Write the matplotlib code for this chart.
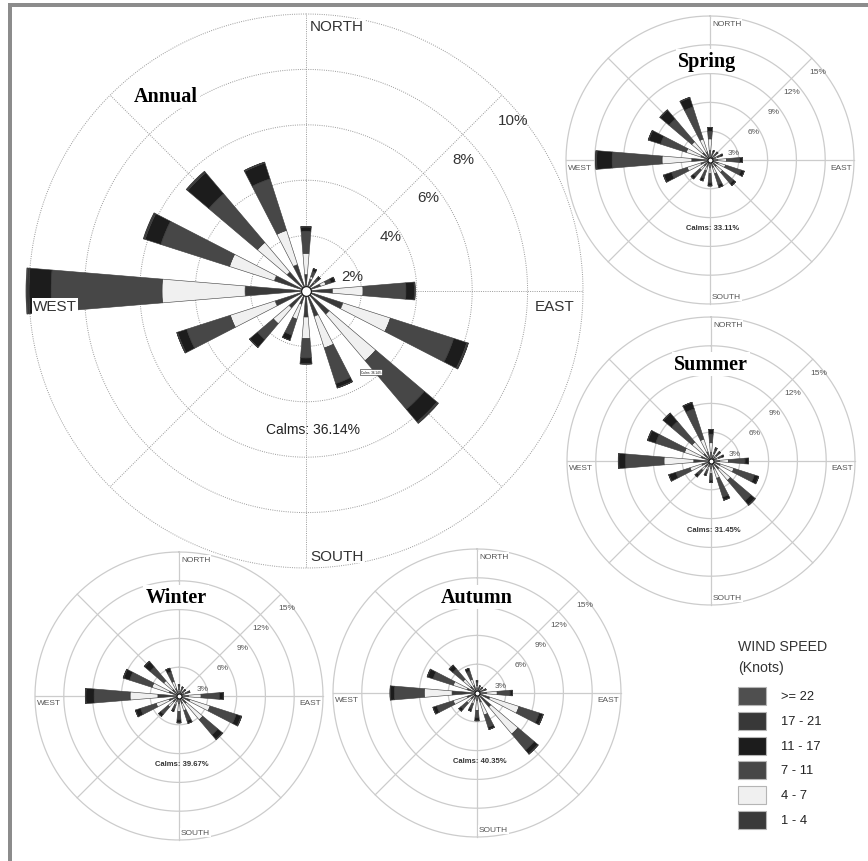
import numpy as np
import matplotlib
matplotlib.use("Agg")
import matplotlib.pyplot as plt
from matplotlib.patches import Rectangle

# directions, clockwise from north
directions = ["N", "NNE", "NE", "ENE", "E", "ESE", "SE", "SSE",
              "S", "SSW", "SW", "WSW", "W", "WNW", "NW", "NNW"]

speed_classes = ["1 - 4", "4 - 7", "7 - 11", "11 - 17", "17 - 21", ">= 22"]
speed_colors = ["#3a3a3a", "#f0f0f0", "#474747", "#1c1c1c", "#383838", "#4f4f4f"]

# frequencies (%) per direction, one list per speed class
annual_1_4   = [.60, .45, .40, .55, .96, 1.4, 1.1, .96, .94, .50, .80, 1.17, 2.2, 1.2, .90, 1.0]
annual_4_7   = [.76, .10, .05, .20, 1.1, 1.8, 2.2, 1.2, .78, .57, .75, 1.7, 3.0, 1.7, 1.4, 1.3]
annual_7_11  = [.80, .20, .15, .20, 1.55, 2.4, 2.3, 1.35, .70, .60, .75, 1.65, 4.0, 2.6, 2.3, 1.95]
annual_11_17 = [.15, .10, .08, .15, .30, .50, .60, .15, .20, .20, .36, .35, .80, .60, 1.0, .60]
annual_17_21 = [.02, 0, 0, 0, .03, .05, .05, .02, .02, 0, .02, .03, .08, .05, .05, .03]
annual_22    = [0, 0, 0, 0, 0, .01, .02, 0, 0, 0, 0, 0, .03, .02, .02, .01]

spring_1_4   = [1.0, .50, .55, .60, .80, .90, .90, .80, .80, .70, .80, 1.0, 1.9, 1.0, 1.0, .90]
spring_4_7   = [1.2, .15, .15, .25, .90, .80, .80, .70, .60, .50, .60, 1.5, 3.1, 1.6, 1.5, 1.4]
spring_7_11  = [.80, .25, .30, .35, 1.4, 1.7, 1.5, 1.2, 1.0, .80, .90, 1.7, 5.2, 2.8, 3.1, 3.5]
spring_11_17 = [.40, .15, .10, .20, .30, .35, .30, .30, .30, .30, .30, .85, 1.6, 1.3, 1.2, 1.0]
spring_17_21 = [0, 0, 0, 0, 0, 0, 0, 0, 0, 0, 0, .05, .1, .05, .05, .05]
spring_22    = [0, 0, 0, 0, 0, 0, 0, 0, 0, 0, 0, 0, .03, .02, .02, .02]

summer_1_4   = [.90, .60, .55, .60, .90, 1.0, 1.1, .90, .80, .60, .80, 1.0, 1.8, 1.1, 1.0, 1.0]
summer_4_7   = [1.0, .25, .20, .25, .90, 1.5, 1.55, 1.0, .50, .40, .50, 1.3, 3.1, 1.8, 1.6, 1.4]
summer_7_11  = [.90, .40, .35, .35, 1.75, 2.25, 2.8, 2.05, .70, .40, .60, 1.55, 4.0, 3.15, 2.8, 3.3]
summer_11_17 = [.50, .20, .20, .20, .35, .45, .55, .35, .25, .20, .30, .75, .70, .85, 1.1, .70]
summer_17_21 = [0, 0, 0, 0, 0, .03, .05, 0, 0, 0, 0, .03, .05, .05, .05, .03]
summer_22    = [0, 0, 0, 0, 0, 0, .02, 0, 0, 0, 0, 0, .02, .02, .02, 0]

winter_1_4   = [.50, .50, .45, .55, 1.0, 1.2, 1.0, .80, .80, .60, .80, 1.1, 2.2, 1.1, .90, .80]
winter_4_7   = [.20, .15, .10, .20, 1.3, 2.2, 2.25, .80, .80, .40, .70, 1.4, 2.9, 1.85, 1.2, .80]
winter_7_11  = [.35, .25, .25, .30, 1.9, 2.85, 2.05, 1.1, .90, .50, 1.0, 1.7, 3.75, 2.45, 1.85, 1.05]
winter_11_17 = [.15, .10, .10, .15, .40, .55, .60, .30, .30, .20, .30, .55, .85, .65, .75, .40]
winter_17_21 = [0, 0, 0, 0, .03, .05, .05, 0, 0, 0, 0, .03, .05, .05, .05, 0]
winter_22    = [0, 0, 0, 0, 0, .02, .02, 0, 0, 0, 0, 0, .02, .02, .02, 0]

autumn_1_4   = [.50, .45, .45, .50, 1.0, 1.4, 1.9, 1.0, .80, .70, .80, 1.1, 2.6, 1.1, .90, .80]
autumn_4_7   = [.30, .10, .10, .15, 1.1, 3.2, 3.7, 1.4, 1.0, .50, .60, 1.5, 2.9, 1.5, 1.0, .70]
autumn_7_11  = [.35, .15, .15, .20, 1.35, 2.2, 2.2, 1.35, .80, .55, .80, 1.8, 3.1, 2.2, 1.4, .90]
autumn_11_17 = [.15, .10, .10, .15, .25, .40, .50, .25, .30, .25, .30, .40, .40, .60, .50, .30]
autumn_17_21 = [0, 0, 0, 0, 0, .05, .05, 0, 0, 0, 0, .03, .05, .05, .03, 0]
autumn_22    = [0, 0, 0, 0, 0, .02, .03, 0, 0, 0, 0, 0, .02, .02, 0, 0]

calms = {"Annual": "36.14%", "Spring": "33.11%", "Summer": "31.45%",
         "Winter": "39.67%", "Autumn": "40.35%"}

annual_rings = [2, 4, 6, 8, 10]
season_rings = [3, 6, 9, 12, 15]

W, H = 868, 862
SANS = "Liberation Sans"
SERIF = "Liberation Serif"

fig = plt.figure(figsize=(W / 100, H / 100), dpi=100)
fig.patch.set_facecolor("white")


def fx(x):
    return x / W


def fy(y):
    return 1 - y / H


def draw_rose(name, cx, cy, ppp, rings, classes, big):
    # ppp = pixels per percent
    rlim = rings[-1] * 1.1
    R = rlim * ppp
    ax = fig.add_axes([fx(cx - R), fy(cy + R), 2 * R / W, 2 * R / H],
                      projection="polar")
    ax.set_theta_zero_location("N")
    ax.set_theta_direction(-1)
    ax.set_ylim(0, rlim)
    ax.set_axis_off()

    th = np.linspace(0, 2 * np.pi, 400)
    if big:
        grid_kw = dict(color="#9a9a9a", lw=0.7, ls=(0, (1, 1.3)))
    else:
        grid_kw = dict(color="#cccccc", lw=0.9, ls="-")
    for r in rings:
        ax.plot(th, np.full_like(th, r), zorder=1, **grid_kw)
    for a in np.deg2rad(np.arange(0, 360, 45)):
        ax.plot([a, a], [0, rings[-1]], zorder=1, **grid_kw)

    # stacked bars
    theta = np.deg2rad(np.arange(len(directions)) * 22.5)
    bottom = np.zeros(len(directions))
    for vals, col in zip(classes, speed_colors):
        vals = np.array(vals)
        ax.bar(theta, vals, width=0.165, bottom=bottom, color=col,
               edgecolor="#3a3a3a", linewidth=0.4, zorder=3)
        bottom += vals

    ax.plot([0], [0], "o", ms=7 if big else 3.6, mfc="white", mec="#111",
            mew=0.8, zorder=5)

    # ring labels
    ang = [72, 57, 52.5, 50, 50.5]
    fac = [0.87, 0.91, 0.93, 0.93, 0.97]
    for r, a, f in zip(rings, ang, fac):
        ax.text(np.deg2rad(a), r * f, f"{r}%", ha="center", va="center",
                fontsize=11 if big else 6, family=SANS, color="#333" if big else "#555",
                zorder=6)

    # cardinal labels
    fs = 11 if big else 6
    col = "#333" if big else "#555"
    box = dict(facecolor="white", edgecolor="none", pad=0.6)
    Rr = rings[-1] * ppp
    off = 0.955 * Rr if big else 0.95 * Rr
    fig.text(fx(cx + (4 if big else 2)), fy(cy - off), "NORTH", ha="left", va="center",
             fontsize=fs, family=SANS, color=col, bbox=box)
    fig.text(fx(cx + (4 if big else 2)), fy(cy + off), "SOUTH", ha="left", va="center",
             fontsize=fs, family=SANS, color=col, bbox=box)
    dy = 15 if big else 7
    fig.text(fx(cx - (0.985 if big else 0.985) * Rr), fy(cy + dy), "WEST", ha="left",
             va="center", fontsize=fs, family=SANS, color=col, bbox=box)
    fig.text(fx(cx + (0.97 if big else 0.99) * Rr), fy(cy + dy), "EAST", ha="right",
             va="center", fontsize=fs, family=SANS, color=col, bbox=box)

    # calms
    if big:
        fig.text(fx(cx + 7), fy(cy + 138), "Calms: " + calms[name], ha="center",
                 va="center", fontsize=10, family=SANS, color="#222")
    else:
        fig.text(fx(cx + 3), fy(cy + 68), "Calms: " + calms[name], ha="center",
                 va="center", fontsize=5.5, family=SANS, weight="bold", color="#333")
    return ax


draw_rose("Annual", 306, 292, 27.7, annual_rings,
          [annual_1_4, annual_4_7, annual_7_11, annual_11_17, annual_17_21, annual_22], True)
draw_rose("Spring", 710, 161, 9.6, season_rings,
          [spring_1_4, spring_4_7, spring_7_11, spring_11_17, spring_17_21, spring_22], False)
draw_rose("Summer", 711, 462, 9.6, season_rings,
          [summer_1_4, summer_4_7, summer_7_11, summer_11_17, summer_17_21, summer_22], False)
draw_rose("Winter", 179, 697, 9.6, season_rings,
          [winter_1_4, winter_4_7, winter_7_11, winter_11_17, winter_17_21, winter_22], False)
draw_rose("Autumn", 477, 694, 9.6, season_rings,
          [autumn_1_4, autumn_4_7, autumn_7_11, autumn_11_17, autumn_17_21, autumn_22], False)

# tiny stray calms tag in the annual rose
fig.text(fx(371), fy(373), "Calms: 36.14%", ha="center", va="center", fontsize=2.2,
         family=SANS, bbox=dict(facecolor="white", edgecolor="#222", lw=0.4, pad=0.4))

# titles
title_box = dict(facecolor="white", edgecolor="none", pad=1.5)
for txt, x, y in [("Annual", 166, 97), ("Spring", 707, 62), ("Summer", 711, 365),
                  ("Winter", 176, 598), ("Autumn", 477, 598)]:
    fig.text(fx(x), fy(y), txt, ha="center", va="center", fontsize=14.5,
             family=SERIF, weight="bold", color="black", bbox=title_box)

# legend
fig.text(fx(738), fy(647), "WIND SPEED", ha="left", va="center", fontsize=10.2,
         family=SANS, color="#333")
fig.text(fx(738), fy(668), "(Knots)", ha="left", va="center", fontsize=10.2,
         family=SANS, color="#333")
legend_order = [5, 4, 3, 2, 1, 0]
for i, k in enumerate(legend_order):
    yc = 697 + i * 24.8
    fig.add_artist(Rectangle((fx(738), fy(yc + 9)), 28 / W, 18 / H,
                             transform=fig.transFigure, facecolor=speed_colors[k],
                             edgecolor="#b5b5b5", lw=0.8))
    fig.text(fx(781), fy(yc), speed_classes[k], ha="left", va="center",
             fontsize=9.3, family=SANS, color="#222")

# frame (top and left edges only)
fig.add_artist(Rectangle((fx(8), fy(8)), 1, 4 / H, transform=fig.transFigure,
                         facecolor="#8c8c8c", edgecolor="none"))
fig.add_artist(Rectangle((fx(8), 0), 4 / W, fy(4), transform=fig.transFigure,
                         facecolor="#8c8c8c", edgecolor="none"))

fig.savefig("out.png", dpi=100)
